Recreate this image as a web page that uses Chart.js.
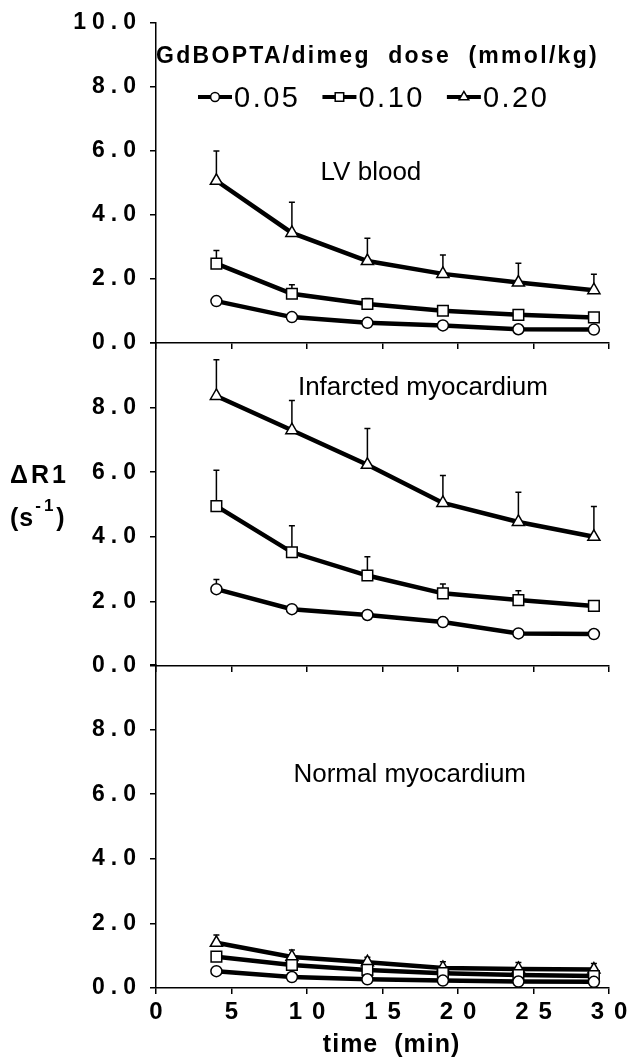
<!DOCTYPE html>
<html>
<head>
<meta charset="utf-8">
<script src="https://cdn.jsdelivr.net/npm/chart.js@4.4.0/dist/chart.umd.min.js"></script>
<style>
  body { margin: 0; background: #fff; }
  .layer { position: absolute; left: 0; top: 0; }
</style>
</head>
<body>
<canvas class="layer" id="lvChart" width="633" height="1057"></canvas>
<canvas class="layer" id="infChart" width="633" height="1057"></canvas>
<canvas class="layer" id="normChart" width="633" height="1057"></canvas>
<script>
// DATA
const times = [4, 9, 14, 19, 24, 29];
const doseLabels = ['0.05', '0.10', '0.20'];
const doseMarkers = ['circle', 'rect', 'triangle'];
const xTickValues = [0, 5, 10, 15, 20, 25, 30];
const yTickValues = [0, 2, 4, 6, 8, 10];

// LV blood
const lvBlood05 = [1.31, 0.81, 0.63, 0.55, 0.43, 0.42];
const lvBlood05Err = [0.06, 0.04, 0.04, 0.03, 0.03, 0.03];
const lvBlood10 = [2.48, 1.54, 1.22, 1.01, 0.88, 0.80];
const lvBlood10Err = [0.41, 0.28, 0.17, 0.10, 0.08, 0.07];
const lvBlood20 = [5.07, 3.44, 2.56, 2.16, 1.89, 1.65];
const lvBlood20Err = [0.93, 0.96, 0.71, 0.59, 0.60, 0.50];

// Infarcted myocardium
const infarct05 = [2.38, 1.76, 1.58, 1.36, 1.01, 0.99];
const infarct05Err = [0.30, 0.12, 0.12, 0.14, 0.06, 0.13];
const infarct10 = [4.95, 3.52, 2.80, 2.25, 2.04, 1.86];
const infarct10Err = [1.11, 0.82, 0.58, 0.29, 0.29, 0.11];
const infarct20 = [8.36, 7.30, 6.23, 5.05, 4.46, 4.00];
const infarct20Err = [1.12, 0.92, 1.12, 0.85, 0.92, 0.94];

// Normal myocardium
const normal05 = [0.52, 0.34, 0.27, 0.23, 0.20, 0.19];
const normal05Err = [0.04, 0.03, 0.03, 0.03, 0.03, 0.03];
const normal10 = [0.97, 0.71, 0.56, 0.46, 0.40, 0.37];
const normal10Err = [0.08, 0.06, 0.05, 0.05, 0.04, 0.04];
const normal20 = [1.40, 0.96, 0.80, 0.62, 0.59, 0.57];
const normal20Err = [0.24, 0.22, 0.15, 0.19, 0.20, 0.19];

const FONT = "'Liberation Sans', Arial, Helvetica, sans-serif";
const markerRadius = {circle: 5.5, rect: 7.5, triangle: 7};
const tickSpacing = {x: '10px', y: '6px'};
const AXIS_LEFT = 156;

// HELPERS

/**
 * canvas letterSpacing on the tick labels only
 */
const spacingPlugin = {
    id: 'tickSpacing',
    afterLayout(chart) {
        Object.values(chart.scales).forEach(function (scale) {
            if (scale._spaced) return;
            const orig = scale.drawLabels;
            scale.drawLabels = function (area) {
                const ctx = this.ctx;
                ctx.save();
                ctx.letterSpacing = tickSpacing[this.id] || '0px';
                orig.call(this, area);
                ctx.restore();
            };
            scale._spaced = true;
        });
    }
};

/**
 * upward error bars, drawn under the markers
 */
const errorBarPlugin = {
    id: 'errorBars',
    beforeDatasetsDraw(chart) {
        const ctx = chart.ctx;
        const xs = chart.scales.x, ys = chart.scales.y;
        ctx.save();
        ctx.strokeStyle = '#000';
        ctx.lineWidth = 1.5;
        chart.data.datasets.forEach(function (ds) {
            ds.data.forEach(function (p, i) {
                const px = xs.getPixelForValue(p.x);
                const base = ys.getPixelForValue(p.y);
                const top = ys.getPixelForValue(p.y + ds.errors[i]);
                ctx.beginPath();
                ctx.moveTo(px, base);
                ctx.lineTo(px, top);
                ctx.moveTo(px - 3, top);
                ctx.lineTo(px + 3, top);
                ctx.stroke();
            });
        });
        ctx.restore();
    }
};

function drawLegend(chart) {
    const ctx = chart.ctx;
    ctx.save();
    ctx.fillStyle = '#000';
    ctx.textAlign = 'left';
    ctx.textBaseline = 'alphabetic';
    ctx.font = 'bold 23px ' + FONT;
    ctx.letterSpacing = '2.3px';
    ctx.fillText('GdBOPTA/dimeg  dose  (mmol/kg)', chart.chartArea.left, 63);

    ctx.font = '29px ' + FONT;
    ctx.letterSpacing = '2.5px';
    let x = 198;
    doseLabels.forEach(function (label, i) {
        ctx.strokeStyle = '#000';
        ctx.lineWidth = 4;
        ctx.beginPath();
        ctx.moveTo(x, 97);
        ctx.lineTo(x + 34, 97);
        ctx.stroke();
        ctx.fillStyle = '#fff';
        ctx.lineWidth = 1.5;
        Chart.helpers.drawPoint(ctx, {pointStyle: doseMarkers[i], radius: markerRadius[doseMarkers[i]] * 0.8, borderWidth: 1.5, rotation: 0}, x + 17, 97);
        ctx.fillStyle = '#000';
        ctx.fillText(label, x + 36, 107);
        x += 36 + ctx.measureText(label).width + 22;
    });
    ctx.restore();
}

function drawYTitle(chart) {
    const ctx = chart.ctx;
    ctx.save();
    ctx.fillStyle = '#000';
    ctx.textAlign = 'left';
    ctx.font = 'bold 25px ' + FONT;
    ctx.letterSpacing = '3px';
    ctx.fillText('\u0394R1', 10, 483);
    ctx.letterSpacing = '1px';
    ctx.fillText('(s', 10, 526);
    let x = 10 + ctx.measureText('(s').width + 1;
    ctx.font = 'bold 17px ' + FONT;
    ctx.letterSpacing = '3px';
    ctx.fillText('-1', x, 511);
    x += ctx.measureText('-1').width;
    ctx.font = 'bold 25px ' + FONT;
    ctx.letterSpacing = '0px';
    ctx.fillText(')', x, 526);
    ctx.restore();
}

function drawXTitle(chart) {
    const ctx = chart.ctx;
    ctx.save();
    ctx.fillStyle = '#000';
    ctx.textAlign = 'center';
    ctx.font = 'bold 25px ' + FONT;
    ctx.letterSpacing = '1px';
    ctx.fillText('time  (min)', chart.scales.x.getPixelForValue(15.6), 1052);
    ctx.restore();
}

/**
 * builds one of the three stacked panels
 * @param id canvas id
 * @param series values per dose
 * @param errors error bars per dose
 * @param cfg panel settings
 */
function makePanel(id, series, errors, cfg) {
    const datasets = series.map(function (vals, i) {
        return {
            label: doseLabels[i],
            data: times.map(function (t, j) { return {x: t, y: vals[j]}; }),
            errors: errors[i],
            borderColor: '#000',
            borderWidth: 4.5,
            pointStyle: doseMarkers[i],
            pointRadius: markerRadius[doseMarkers[i]],
            pointBackgroundColor: '#fff',
            pointBorderColor: '#000',
            pointBorderWidth: 1.5,
            tension: 0,
            fill: false
        };
    });

    // x axis box only needs room when it carries labels
    const xHeight = cfg.xTicks ? 1057 - cfg.bottom : 0;

    const textPlugin = {
        id: 'panelText',
        afterDraw(chart) {
            const ctx = chart.ctx;
            ctx.save();
            ctx.fillStyle = '#000';
            ctx.textAlign = 'left';
            ctx.font = '26px ' + FONT;
            ctx.fillText(cfg.label, chart.scales.x.getPixelForValue(cfg.labelAt[0]), chart.scales.y.getPixelForValue(cfg.labelAt[1]));
            ctx.restore();
            if (cfg.legend) drawLegend(chart);
            if (cfg.yTitle) drawYTitle(chart);
            if (cfg.xTitle) drawXTitle(chart);
        }
    };

    return new Chart(document.getElementById(id), {
        type: 'line',
        data: {datasets: datasets},
        options: {
            responsive: false,
            animation: false,
            layout: {padding: {top: cfg.top, bottom: 1057 - cfg.bottom - xHeight, left: 0, right: 24}},
            plugins: {legend: {display: false}, tooltip: {enabled: false}},
            scales: {
                x: {
                    type: 'linear',
                    min: 0,
                    max: 30,
                    afterBuildTicks: function (s) { s.ticks = xTickValues.map(function (v) { return {value: v}; }); },
                    afterFit: function (s) { s.height = xHeight; s.paddingLeft = s.paddingRight = s.paddingTop = s.paddingBottom = 0; },
                    grid: {drawOnChartArea: false, tickLength: 6, color: '#000', lineWidth: 1.5},
                    border: {color: '#000', width: 1.5},
                    ticks: {
                        display: cfg.xTicks,
                        color: '#000',
                        padding: 4,
                        labelOffset: 5,
                        maxRotation: 0,
                        autoSkip: false,
                        font: {family: FONT, size: 24, weight: 'bold'}
                    }
                },
                y: {
                    type: 'linear',
                    min: 0,
                    max: 10,
                    afterBuildTicks: function (s) { s.ticks = yTickValues.map(function (v) { return {value: v}; }); },
                    afterFit: function (s) { s.width = AXIS_LEFT; s.paddingLeft = s.paddingRight = s.paddingTop = s.paddingBottom = 0; },
                    grid: {drawOnChartArea: false, tickLength: 6, color: '#000', lineWidth: 1.5},
                    border: {color: '#000', width: 1.5},
                    ticks: {
                        color: '#000',
                        padding: 8,
                        autoSkip: false,
                        font: {family: FONT, size: 23, weight: 'bold'},
                        callback: function (v) { return (v === 10 && !cfg.showTop) ? '' : v.toFixed(1); }
                    }
                }
            }
        },
        plugins: [spacingPlugin, errorBarPlugin, textPlugin]
    });
}

// DRAW PANELS
makePanel('lvChart',
    [lvBlood05, lvBlood10, lvBlood20],
    [lvBlood05Err, lvBlood10Err, lvBlood20Err],
    {top: 23, bottom: 343, showTop: true, xTicks: false, label: 'LV blood', labelAt: [10.9, 5.09], legend: true});

makePanel('infChart',
    [infarct05, infarct10, infarct20],
    [infarct05Err, infarct10Err, infarct20Err],
    {top: 343, bottom: 666, showTop: false, xTicks: false, label: 'Infarcted myocardium', labelAt: [9.4, 8.39], yTitle: true});

makePanel('normChart',
    [normal05, normal10, normal20],
    [normal05Err, normal10Err, normal20Err],
    {top: 665, bottom: 988, showTop: false, xTicks: true, label: 'Normal myocardium', labelAt: [9.1, 6.38], xTitle: true});
</script>
</body>
</html>
